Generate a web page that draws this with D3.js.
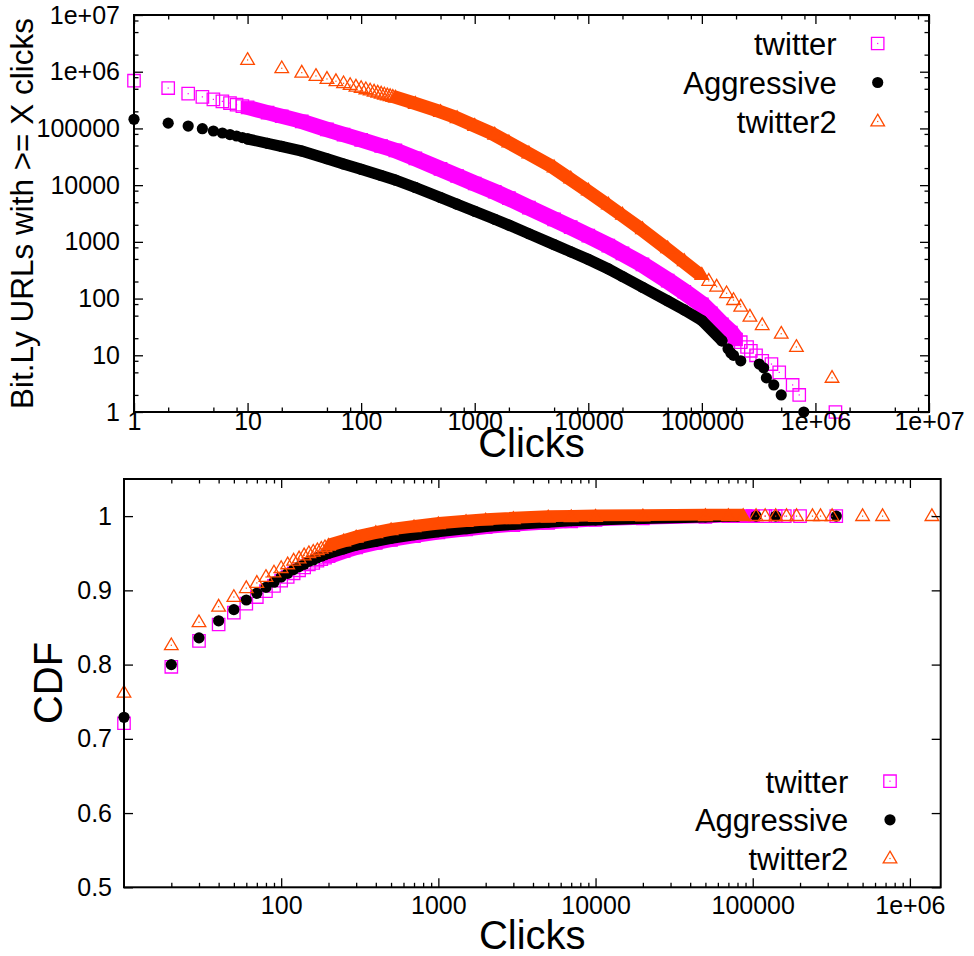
<!DOCTYPE html>
<html><head><meta charset="utf-8">
<script src="https://cdn.jsdelivr.net/npm/d3@7"></script>
<style>
body{margin:0;background:#fff}
svg text{font-family:"Liberation Sans",Arial,Helvetica,sans-serif;fill:#000}
</style>
</head><body><svg id="c" width="974" height="956"></svg>
<script>
// ================= DATA =================
// Top panel: number of Bit.Ly URLs with >= X clicks (log-log)
const ccdfTwitterClicks = [1,2,3,4,5,6,7,8,9,10,15,20,30,50,70,100,150,200,300,500,700,1000,1500,2000,3000,5000,7000,10000,15000,20000,30000,50000,70000,100000,120000,150000,180000,200000,220000,250000,270000,300000,340000,410000,480000,630000,720000,1500000];
const ccdfTwitterCount  = [695000,515000,410000,360000,325000,300000,280000,262000,247000,235000,190000,164000,133000,96000,78000,63000,49000,41000,29700,19300,14500,10700,7640,5890,4020,2490,1820,1290,860,626,401,208,132,79,55,35,25,19,17,14,12,10,8,7,5,3,2,1];

const ccdfAggrClicks = [1,2,3,4,5,6,7,8,9,10,15,20,30,50,70,100,150,200,300,500,700,1000,1500,2000,3000,5000,7000,10000,15000,20000,30000,50000,70000,100000,150000,170000,180000,190000,220000,320000,350000,370000,430000,500000,790000];
const ccdfAggrCount  = [145000,124000,110000,99000,90000,83000,78000,73500,69000,65200,54500,48100,40000,29200,23600,19000,14800,12300,9100,6040,4610,3460,2500,1970,1390,895,668,491,334,245,158,91,63,41,18,13,11,10,8,7,6,4,3,2,1];

const ccdfTw2Clicks = [10,20,30,40,50,60,70,80,90,100,110,120,130,140,150,160,170,180,190,200,300,500,700,1000,1500,2000,3000,5000,7000,10000,15000,20000,30000,50000,70000,100000,115000,135000,165000,190000,220000,265000,340000,500000,680000,1400000];
const ccdfTw2Count  = [1610000,1150000,962000,841000,745000,680000,625000,583000,545000,515000,489000,465000,445000,427000,410000,395000,383000,371000,359000,349000,271000,195000,152000,111000,77600,56800,36300,20600,13100,8050,4560,3010,1680,771,456,261,205,162,124,94,72,48,34,24,14,4];

// Bottom panel: CDF of clicks
const cdfClicks  = [10,20,30,40,50,60,70,80,90,100,110,120,130,140,150,160,170,180,190,200,250,300,400,500,700,1000,1500,2000,3000,5000,7000,10000,20000,50000];
const cdfTwitter = [.721,.797,.832,.854,.870,.882,.891,.899,.906,.913,.918,.923,.927,.931,.935,.937,.940,.942,.944,.946,.953,.958,.964,.968,.973,.978,.982,.985,.988,.991,.993,.995,.997,.999];
const cdfAggr    = [.729,.800,.836,.859,.874,.887,.896,.904,.911,.918,.923,.928,.932,.935,.939,.941,.944,.946,.948,.950,.956,.961,.966,.970,.975,.979,.983,.986,.989,.992,.994,.995,.997,.999];
const cdfTw2     = [.762,.826,.857,.878,.891,.903,.910,.918,.924,.930,.935,.940,.943,.947,.950,.952,.954,.956,.958,.960,.966,.971,.977,.981,.985,.989,.992,.994,.996,.998,.9985,.999,.9995,1];
const cdfTwitterTailClicks = [70000,80000,90000,100000,120000,140000,160000,200000,340000];
const cdfTwitterTail       = [1,1,1,1,1,1,1,1,1];
const cdfAggrTailClicks    = [70000,80000,105000,140000,340000];
const cdfAggrTail          = [1,1,1,1,1];
const cdfTw2TailClicks     = [70000,87000,105000,120000,140000,164000,190000,240000,270000,320000,500000,670000,1380000];
const cdfTw2Tail           = [1,1,1,1,1,1,1,1,1,1,1,1,1];

const seriesNames = ["twitter","Aggressive","twitter2"];
const topXTicks = [1,10,100,1000,10000,100000,1000000,10000000];
const topYTicks = [1,10,100,1000,10000,100000,1000000,10000000];
const botXTicks = [100,1000,10000,100000,1000000];
const botYTicks = [0.5,0.6,0.7,0.8,0.9,1.0];

// ================= STYLE =================
const COLORS = {twitter:"#ff00ff", Aggressive:"#000000", twitter2:"#ff4a00"};
const SHAPES = {twitter:"square", Aggressive:"circle", twitter2:"triangle"};
const svg = d3.select("#c");

function verts(shape,cx,cy){
  if(shape==="square"){const h=6.2;return [[cx-h,cy-h],[cx+h,cy-h],[cx+h,cy+h],[cx-h,cy+h]];}
  if(shape==="triangle"){return [[cx,cy-7.3],[cx+6.8,cy+4.4],[cx-6.8,cy+4.4]];}
  const r=5.6,o=[];for(let i=0;i<28;i++){const a=i*2*Math.PI/28;o.push([cx+r*Math.cos(a),cy+r*Math.sin(a)]);}return o;
}
function bandPath(pts,shape){
  let d="";
  for(let i=0;i<pts.length-1;i++){
    const h=d3.polygonHull(verts(shape,pts[i][0],pts[i][1]).concat(verts(shape,pts[i+1][0],pts[i+1][1])));
    d+="M"+h.map(p=>p[0].toFixed(2)+","+p[1].toFixed(2)).join("L")+"Z";
  }
  return d;
}
function drawMarker(g,shape,color,cx,cy){
  if(shape==="circle"){
    g.append("circle").attr("cx",cx).attr("cy",cy).attr("r",5.6).attr("fill",color);
  } else {
    const v=verts(shape,cx,cy);
    g.append("path").attr("d","M"+v.map(p=>p.join(",")).join("L")+"Z")
      .attr("fill","none").attr("stroke",color).attr("stroke-width",1.3);
    g.append("rect").attr("x",cx-0.6).attr("y",cy-0.6).attr("width",1.2).attr("height",1.2).attr("fill",color);
  }
}
function drawSeries(g,name,xs,ys,xS,yS,bandFrom,bandTo){
  const color=COLORS[name],shape=SHAPES[name];
  const pts=xs.map((x,i)=>[xS(x),yS(ys[i]),x]);
  const band=pts.filter(p=>p[2]>=bandFrom&&p[2]<=bandTo);
  if(band.length>1) g.append("path").attr("d",bandPath(band,shape)).attr("fill",color);
  pts.forEach(p=>drawMarker(g,shape,color,p[0],p[1]));
}
function styleAxis(sel,fs){
  sel.select(".domain").remove();
  sel.selectAll(".tick line").attr("stroke","#000").attr("stroke-width",1.3);
  sel.selectAll(".tick text").style("font-size",fs+"px").attr("fill","#000");
}
function drawAxes(xS,yS,xMaj,xMin,yMaj,yMin,xFmt,yFmt,xPad,yPad){
  const [x0,x1]=xS.range(),[y0,y1]=yS.range();
  const g=svg.append("g");
  const mk=(axis,tx,ty,vals,len,fmt,pad)=>{
    const a=axis.tickValues(vals).tickSizeInner(-len).tickSizeOuter(0).tickPadding(pad||0).tickFormat(fmt||"");
    const s=g.append("g").attr("transform",`translate(${tx},${ty})`).call(a);
    styleAxis(s,25);
    return s;
  };
  mk(d3.axisBottom(xS),0,y0,xMaj,9,xFmt,xPad);
  mk(d3.axisBottom(xS),0,y0,xMin,4.5);
  mk(d3.axisTop(xS),0,y1,xMaj,9);
  mk(d3.axisTop(xS),0,y1,xMin,4.5);
  mk(d3.axisLeft(yS),x0,0,yMaj,9,yFmt,yPad);
  if(yMin.length) mk(d3.axisLeft(yS),x0,0,yMin,4.5);
  mk(d3.axisRight(yS),x1,0,yMaj,9);
  if(yMin.length) mk(d3.axisRight(yS),x1,0,yMin,4.5);
  g.append("rect").attr("x",x0).attr("y",y1).attr("width",x1-x0).attr("height",y0-y1)
    .attr("fill","none").attr("stroke","#000").attr("stroke-width",2);
}
function drawLegend(x,xm,baselines){
  seriesNames.forEach((n,i)=>{
    svg.append("text").attr("x",x).attr("y",baselines[i]).attr("text-anchor","end")
      .style("font-size","31px").text(n);
    drawMarker(svg.append("g"),SHAPES[n],COLORS[n],xm,baselines[i]-11.5);
  });
}
const logFmt=v=>v>=1e6?"1e+0"+Math.round(Math.log10(v)):d3.format("d")(v);

// ================= TOP PANEL =================
const xTop=d3.scaleLog().domain([1,1e7]).range([134,929]);
const yTop=d3.scaleLog().domain([1,1e7]).range([412,15]);
const topMinor=[];topXTicks.slice(0,-1).forEach(d=>[2,5,8].forEach(k=>topMinor.push(d*k)));
const gTop=svg.append("g");
drawSeries(gTop,"twitter",ccdfTwitterClicks,ccdfTwitterCount,xTop,yTop,10,200000);
drawSeries(gTop,"Aggressive",ccdfAggrClicks,ccdfAggrCount,xTop,yTop,10,150000);
drawSeries(gTop,"twitter2",ccdfTw2Clicks,ccdfTw2Count,xTop,yTop,200,100000);
drawAxes(xTop,yTop,topXTicks,topMinor,topYTicks,topMinor,logFmt,logFmt,0,14);
drawLegend(836.7,877.7,[55,94,133]);
svg.append("text").attr("transform","translate(33,213.5) rotate(-90)").attr("text-anchor","middle")
  .style("font-size","31.5px").text("Bit.Ly URLs with >= X clicks");
svg.append("text").attr("x",531.5).attr("y",457).attr("text-anchor","middle")
  .style("font-size","40px").text("Clicks");

// ================= BOTTOM PANEL =================
const xBot=d3.scaleLog().domain([10,1.57e6]).range([124,940.7]);
const yBot=d3.scaleLinear().domain([0.5,1.05]).range([887.3,479]);
const botMinor=[];[10,100,1000,10000,100000,1000000].forEach(d=>[2,3,4,5,6,7,8,9].forEach(k=>{if(d*k<1.57e6)botMinor.push(d*k);}));
const gBot=svg.append("g");
drawSeries(gBot,"twitter",cdfClicks.concat(cdfTwitterTailClicks),cdfTwitter.concat(cdfTwitterTail),xBot,yBot,200,100000);
drawSeries(gBot,"Aggressive",cdfClicks.concat(cdfAggrTailClicks),cdfAggr.concat(cdfAggrTail),xBot,yBot,200,80000);
drawSeries(gBot,"twitter2",cdfClicks.concat(cdfTw2TailClicks),cdfTw2.concat(cdfTw2Tail),xBot,yBot,200,87000);
drawAxes(xBot,yBot,botXTicks,botMinor,botYTicks,[],logFmt,v=>v===1?"1":d3.format(".1f")(v),9,12);
drawLegend(848.3,890,[792.7,831.3,870]);
svg.append("text").attr("transform","translate(61.5,683) rotate(-90)").attr("text-anchor","middle")
  .style("font-size","40px").text("CDF");
svg.append("text").attr("x",532.3).attr("y",949).attr("text-anchor","middle")
  .style("font-size","40px").text("Clicks");
</script>
</body></html>
